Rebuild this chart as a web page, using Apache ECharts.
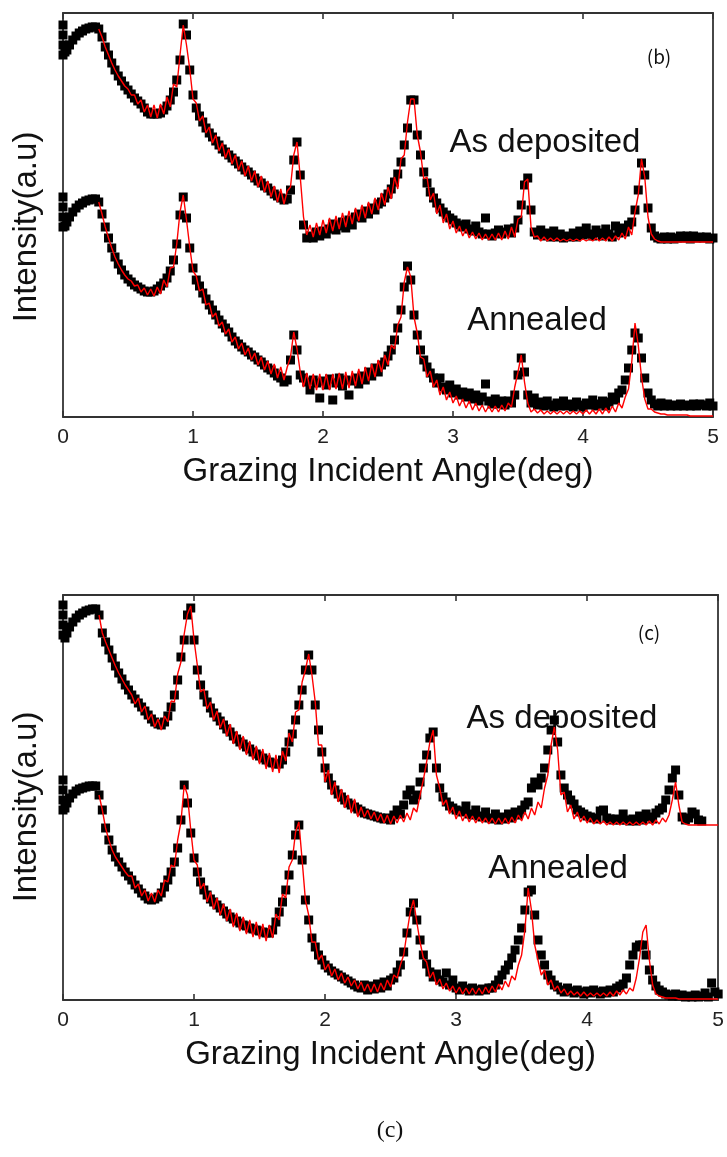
<!DOCTYPE html>
<html>
<head>
<meta charset="utf-8">
<script src="https://cdn.jsdelivr.net/npm/echarts/dist/echarts.min.js"></script>
<style>
html,body{margin:0;padding:0;background:#ffffff;}
#chart{width:727px;height:1157px;}
</style>
</head>
<body>
<div id="chart"></div>
<script>
// Grazing incidence angles (deg) of the scan points
const angles = [
0,0,0,0,0.015,0.03,0.05,0.075,0.1,0.125,0.15,0.175,0.2,0.225,0.25,
0.275,0.3,0.325,0.35,0.375,0.4,0.425,0.45,0.475,0.5,
0.525,0.55,0.575,0.6,0.625,0.65,0.675,0.7,0.725,0.75,
0.775,0.8,0.825,0.85,0.875,0.9,0.925,0.95,0.975,1,
1.025,1.05,1.075,1.1,1.125,1.15,1.175,1.2,1.225,1.25,
1.275,1.3,1.325,1.35,1.375,1.4,1.425,1.45,1.475,1.5,
1.525,1.55,1.575,1.6,1.625,1.65,1.675,1.7,1.725,1.75,
1.775,1.8,1.825,1.85,1.875,1.9,1.925,1.95,1.975,2,
2.025,2.05,2.075,2.1,2.125,2.15,2.175,2.2,2.225,2.25,
2.275,2.3,2.325,2.35,2.375,2.4,2.425,2.45,2.475,2.5,
2.525,2.55,2.575,2.6,2.625,2.65,2.675,2.7,2.725,2.75,
2.775,2.8,2.825,2.85,2.875,2.9,2.925,2.95,2.975,3,
3.025,3.05,3.075,3.1,3.125,3.15,3.175,3.2,3.225,3.25,
3.275,3.3,3.325,3.35,3.375,3.4,3.425,3.45,3.475,3.5,
3.525,3.55,3.575,3.6,3.625,3.65,3.675,3.7,3.725,3.75,
3.775,3.8,3.825,3.85,3.875,3.9,3.925,3.95,3.975,4,
4.025,4.05,4.075,4.1,4.125,4.15,4.175,4.2,4.225,4.25,
4.275,4.3,4.325,4.35,4.375,4.4,4.425,4.45,4.475,4.5,
4.525,4.55,4.575,4.6,4.625,4.65,4.675,4.7,4.725,4.75,
4.775,4.8,4.825,4.85,4.875,4.9,4.925,4.95,4.975,5
];
// fitted curves start where the plateau ends
const fitAngles = angles.filter(a => a >= 0.275);

const xTickLabels = ['0','1','2','3','4','5'];

// ---------- panel (b) ----------
const bAsDepData = [
392,382,372,362,365,367,372,377,381,384,386,388,389,390,390,
388,380,370,362,354,347,341,336,331,327,
323,319,316,313,309,305,303,303,303,304,
307,311,317,325,337,357,393,382,347,322,
309,301,295,289,284,280,276,272,268,265,
262,259,256,253,250,247,245,242,239,236,
234,231,229,226,223,221,219,217,218,227,
257,275,242,192,179,181,179,185,181,186,
183,188,193,187,191,195,189,197,192,200,
203,199,206,203,209,207,213,215,219,223,
228,235,243,255,272,289,317,317,282,262,
245,234,225,219,214,209,205,202,199,197,
194,192,190,193,188,186,191,185,183,199,
183,181,184,187,183,185,188,184,189,197,
212,232,239,207,185,182,187,181,184,180,
186,180,183,179,181,180,184,180,186,182,
189,183,181,187,184,181,188,183,180,191,
184,189,185,192,195,207,227,254,242,209,
189,181,179,178,180,178,180,178,179,181,
179,181,178,181,179,180,179,180,178,179
];
const bAsDepFit = [
388,380,370,362,354,347,341,336,331,328,
322,322,313,317,305,312,300,312,299,313,
303,320,310,333,330,362,392,372,348,318,
314,296,301,284,290,274,282,266,274,259,
268,253,262,247,256,241,251,236,246,230,
241,225,236,220,231,215,228,213,226,230,
262,275,240,200,182,192,180,194,182,197,
184,199,186,201,188,204,190,206,193,209,
196,212,199,215,203,219,207,224,212,230,
218,240,228,258,262,295,318,318,282,265,
238,240,217,224,203,212,194,203,188,196,
184,191,181,188,179,185,178,184,177,183,
177,183,177,184,177,186,178,190,180,198,
200,235,238,190,180,181,176,180,176,179,
176,179,176,178,176,178,176,178,176,178,
176,178,176,179,176,179,176,180,176,181,
177,184,178,190,182,205,222,258,240,200,
183,178,176,175,175,175,175,175,175,175,
175,175,175,175,175,175,175,175,175,175
];
const bAnnealData = [
220,210,200,190,191,195,200,205,209,212,214,216,217,218,218,
215,203,190,179,169,160,153,147,142,138,
135,132,130,128,126,125,125,126,128,131,
134,139,146,157,173,202,220,199,169,149,
137,131,124,118,112,107,102,97,93,89,
85,80,76,73,70,67,65,62,60,57,
55,52,49,47,44,41,39,35,37,57,
82,67,42,39,35,27,37,34,19,36,
32,38,17,34,39,31,37,22,36,39,
33,41,37,45,41,49,45,52,55,61,
67,77,89,107,130,151,137,102,82,67,
57,50,44,39,34,39,30,27,32,24,
28,22,25,20,24,18,22,16,20,33,
16,13,18,13,16,12,16,14,22,42,
59,45,22,14,19,12,15,11,16,12,
10,14,11,16,11,13,10,15,12,10,
14,12,17,11,13,16,11,15,20,17,
24,27,37,49,67,84,79,59,39,24,
17,13,11,14,11,13,11,12,11,13,
11,12,11,13,11,13,12,11,14,11
];
const bAnnealFit = [
215,203,190,179,169,160,153,147,142,138,
136,131,132,125,129,122,128,121,130,123,
137,130,149,150,173,205,222,197,170,146,
141,126,128,112,114,100,104,91,95,83,
88,75,80,68,74,62,69,57,64,52,
60,47,56,43,53,39,50,37,50,60,
85,68,45,30,44,28,43,27,43,27,
43,27,43,28,44,28,45,29,46,31,
48,33,50,36,53,40,57,45,62,52,
72,68,92,100,135,150,140,100,84,60,
58,40,46,30,37,22,30,17,25,14,
21,11,18,9,16,7,14,6,12,5,
11,5,11,5,12,6,14,10,30,45,
62,35,14,5,8,4,7,3,6,3,
6,3,6,3,6,3,6,3,6,3,
7,3,7,3,8,3,9,4,11,5,
14,9,20,28,55,94,72,40,18,8,
8,5,4,3,3,2,2,2,2,2,
2,2,1,1,1,1,1,1,1,1
];

// ---------- panel (c) ----------
const cAsDepData = [
395,385,375,365,362,367,373,378,382,385,387,389,390,391,391,
385,367,358,350,342,334,327,321,315,310,
305,301,297,293,289,285,281,278,276,275,
278,284,293,305,320,343,360,385,392,360,
330,315,305,298,292,287,283,279,275,271,
268,264,261,258,256,253,251,248,246,244,
242,240,238,237,236,236,240,248,258,266,
280,295,310,330,345,330,295,270,248,232,
222,215,210,206,203,200,197,195,193,191,
189,187,186,185,184,183,182,181,182,180,
185,190,186,195,205,210,200,205,218,232,
245,262,268,232,212,203,198,194,192,190,
189,188,194,186,185,190,184,183,188,182,
181,186,180,183,181,186,182,188,185,190,
195,198,212,218,215,222,232,250,270,280,
258,225,212,205,200,196,190,188,186,184,
183,182,181,189,190,182,181,180,181,180,
186,180,179,181,179,184,180,186,183,181,
187,190,192,200,210,222,230,205,183,180,
182,188,186,180,179,null,null,null,null,null
];
const cAsDepFit = [
385,367,358,350,342,334,327,321,315,310,
305,296,302,288,294,280,286,273,281,270,
284,278,299,298,326,338,366,386,394,360,
335,308,311,291,298,280,289,272,281,264,
276,256,269,250,264,245,259,240,254,236,
251,231,247,228,245,227,249,239,267,258,
288,290,318,330,346,325,298,255,255,218,
230,205,218,198,211,192,205,187,201,183,
193,183,190,181,188,179,186,177,185,176,
184,177,185,178,187,180,192,188,205,220,
238,258,270,225,212,195,200,186,193,181,
189,179,186,178,184,177,183,177,182,176,
182,176,182,176,182,176,183,177,185,179,
188,181,192,185,198,192,212,225,255,273,
250,205,208,188,195,181,188,178,184,177,
182,176,180,176,179,175,178,175,178,175,
178,175,178,175,178,175,178,175,179,175,
180,176,182,178,185,200,218,195,178,176,
175,175,175,175,175,175,175,175,175,175
];
const cAnnealData = [
220,210,200,190,192,197,202,206,209,211,212,213,214,214,214,
205,190,172,160,150,143,138,133,128,124,
120,115,111,107,104,101,100,101,103,107,
113,120,128,138,152,180,215,197,167,142,
128,118,110,105,101,98,95,92,89,86,
83,81,79,77,75,74,72,71,70,69,
68,67,67,70,78,88,98,110,125,145,
165,175,140,100,80,62,53,45,40,35,
32,29,27,25,23,21,19,17,15,13,
12,15,10,14,11,16,12,18,14,20,
22,28,35,48,67,88,97,80,60,45,
36,28,23,26,20,18,27,15,20,12,
10,14,11,9,12,10,9,11,10,12,
12,15,20,25,30,35,42,50,60,72,
90,108,110,85,60,45,35,25,20,15,
13,10,8,12,9,7,10,8,6,9,
7,10,8,6,9,7,10,8,12,14,
16,22,35,45,53,55,55,45,30,20,
14,10,8,6,5,4,6,4,5,3,
4,3,5,3,4,7,3,17,8,6
];
const cAnnealFit = [
205,190,172,160,150,143,138,133,128,124,
124,112,116,104,110,99,107,98,110,104,
120,118,135,133,160,178,215,205,170,140,
135,111,117,98,108,91,102,85,96,79,
91,73,87,69,83,66,80,63,78,61,
76,59,75,62,86,80,106,102,133,140,
168,178,140,100,85,58,58,40,45,30,
36,24,31,20,27,17,23,14,20,11,
18,9,16,8,16,8,17,10,20,13,
25,22,35,45,67,88,100,78,58,42,
38,22,28,15,21,11,17,9,14,7,
13,6,12,6,12,6,12,6,13,7,
14,8,16,10,19,13,24,20,35,45,
70,112,90,55,40,25,30,15,20,10,
14,7,11,5,9,5,8,4,8,4,
7,4,7,4,7,4,8,4,9,5,
10,6,12,9,22,42,68,75,40,15,
6,4,3,2,2,2,2,1,1,1,
1,1,1,1,1,1,1,1,1,1
];

const SANS = '"Liberation Sans", Arial, Helvetica, sans-serif';
const AXIS_COLOR = '#333333';

function pairs(xs, ys) {
  const out = [];
  const n = Math.min(xs.length, ys.length);
  for (let i = 0; i < n; i++) {
    if (ys[i] !== null && ys[i] !== undefined) out.push([xs[i], ys[i]]);
  }
  return out;
}

function bottomAxis(g) {
  return {
    gridIndex: g, type: 'value', position: 'bottom', min: 0, max: 5, interval: 1,
    axisLine: { show: true, onZero: false, lineStyle: { color: AXIS_COLOR, width: 1.8 } },
    axisTick: { show: true, inside: true, length: 6, lineStyle: { color: AXIS_COLOR, width: 1.6 } },
    axisLabel: { show: true, margin: 10, fontSize: 21, color: '#222', fontFamily: SANS,
      formatter: v => xTickLabels[Math.round(v)] },
    splitLine: { show: false },
    name: 'Grazing Incident Angle(deg)', nameLocation: 'middle', nameGap: 38,
    nameTextStyle: { fontSize: 33, color: '#111', fontFamily: SANS }
  };
}
function topAxis(g) {
  return {
    gridIndex: g, type: 'value', position: 'top', min: 0, max: 5, interval: 1,
    axisLine: { show: true, onZero: false, lineStyle: { color: AXIS_COLOR, width: 1.8 } },
    axisTick: { show: true, inside: true, length: 6, lineStyle: { color: AXIS_COLOR, width: 1.6 } },
    axisLabel: { show: false }, splitLine: { show: false }
  };
}
function leftAxis(g, maxV) {
  return {
    gridIndex: g, type: 'value', position: 'left', min: 0, max: maxV,
    axisLine: { show: true, onZero: false, lineStyle: { color: AXIS_COLOR, width: 1.8 } },
    axisTick: { show: false }, axisLabel: { show: false }, splitLine: { show: false }
  };
}
function rightAxis(g, maxV) {
  return {
    gridIndex: g, type: 'value', position: 'right', min: 0, max: maxV,
    axisLine: { show: true, onZero: false, lineStyle: { color: AXIS_COLOR, width: 1.8 } },
    axisTick: { show: false }, axisLabel: { show: false }, splitLine: { show: false }
  };
}
function dataSeries(name, xi, yi, xs, ys) {
  return {
    name, type: 'scatter', xAxisIndex: xi, yAxisIndex: yi, data: pairs(xs, ys),
    symbol: 'rect', symbolSize: 9, itemStyle: { color: '#000000', opacity: 1 },
    silent: true, z: 2
  };
}
function fitSeries(name, xi, yi, xs, ys) {
  return {
    name, type: 'line', xAxisIndex: xi, yAxisIndex: yi, data: pairs(xs, ys),
    showSymbol: false, symbol: 'none', lineStyle: { color: '#ff0000', width: 1.4, opacity: 1 },
    silent: true, z: 3
  };
}
function label(text, x, y, size, family) {
  return {
    type: 'text', x, y, silent: true,
    style: { text, fill: '#111', font: size + 'px ' + family,
      textAlign: 'center', textVerticalAlign: 'middle', align: 'center', verticalAlign: 'middle' }
  };
}

const chart = echarts.init(document.getElementById('chart'), null, { renderer: 'canvas' });
chart.setOption({
  animation: false,
  backgroundColor: '#ffffff',
  grid: [
    { left: 63, top: 13, width: 650, height: 404 },
    { left: 63, top: 595, width: 659, height: 405 }
  ],
  xAxis: [bottomAxis(0), topAxis(0), bottomAxis(1), topAxis(1)],
  yAxis: [leftAxis(0, 404), rightAxis(0, 404), leftAxis(1, 405), rightAxis(1, 405)],
  series: [
    dataSeries('(b) As deposited data', 0, 0, angles, bAsDepData),
    dataSeries('(b) Annealed data', 0, 0, angles, bAnnealData),
    fitSeries('(b) As deposited fit', 0, 0, fitAngles, bAsDepFit),
    fitSeries('(b) Annealed fit', 0, 0, fitAngles, bAnnealFit),
    dataSeries('(c) As deposited data', 2, 2, angles, cAsDepData),
    dataSeries('(c) Annealed data', 2, 2, angles, cAnnealData),
    fitSeries('(c) As deposited fit', 2, 2, fitAngles, cAsDepFit),
    fitSeries('(c) Annealed fit', 2, 2, fitAngles, cAnnealFit)
  ],
  graphic: [
    Object.assign(label('Intensity(a.u)', 27, 227, 33, SANS), { rotation: Math.PI / 2 }),
    Object.assign(label('Intensity(a.u)', 27, 807, 33, SANS), { rotation: Math.PI / 2 }),
    label('As deposited', 545, 143, 33, SANS),
    label('Annealed', 537, 321, 33, SANS),
    label('As deposited', 562, 719, 33, SANS),
    label('Annealed', 558, 869, 33, SANS),
    label('(b)', 659, 57, 19, '"Noto Sans CJK SC", "Noto Sans", sans-serif'),
    label('(c)', 649, 633, 19, '"Noto Sans CJK SC", "Noto Sans", sans-serif'),
    label('(c)', 390, 1131, 24, '"Liberation Serif", "Times New Roman", serif')
  ]
});
</script>
</body>
</html>
